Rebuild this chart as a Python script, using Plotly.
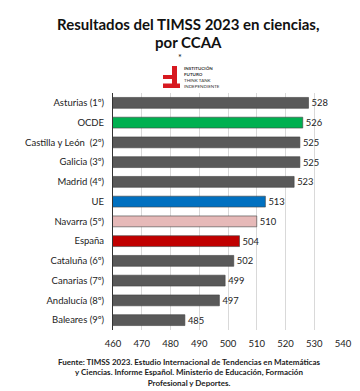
import plotly.graph_objects as go

categories = ["Asturias (1º)", "OCDE", "Castilla y León  (2º)", "Galicia (3º)", "Madrid (4º)", "UE",
              "Navarra (5º)", "España", "Cataluña (6º)", "Canarias (7º)", "Andalucía (8º)", "Baleares (9º)"]
values = [528, 526, 525, 525, 523, 513, 510, 504, 502, 499, 497, 485]
colors = ["#595959", "#00B050", "#595959", "#595959", "#595959", "#0070C0",
          "#E6B9B8", "#C00000", "#595959", "#595959", "#595959", "#595959"]
tick_vals = [460, 470, 480, 490, 500, 510, 520, 530, 540]

W, H = 360, 391
L, R, T, B = 105, 25, 85, 69
PW, PH = W - L - R, H - T - B


def px(x):
    return (x - L) / PW


def py(y):
    return (H - B - y) / PH


FONT = "Lato"

fig = go.Figure(go.Bar(
    y=categories, x=values, orientation="h",
    marker=dict(color=colors, line=dict(color="#404040", width=0.6)),
    width=0.55,
    text=[str(v) for v in values], textposition="outside",
    textfont=dict(size=9.5, color="#222222", family=FONT),
    cliponaxis=False,
))

fig.update_layout(
    width=W, height=H,
    margin=dict(l=L, r=R, t=T, b=B),
    paper_bgcolor="white", plot_bgcolor="white",
    showlegend=False,
    font=dict(family=FONT, color="#222222"),
    bargap=0.45,
    xaxis=dict(range=[460, 540], tickvals=tick_vals, showgrid=True, gridcolor="#D9D9D9",
               gridwidth=1, zeroline=False, tickfont=dict(size=9.5, color="#222222"),
               ticks="", ticklabelstandoff=6, showline=False),
    yaxis=dict(autorange="reversed", showline=True, linecolor="#333333", linewidth=1,
               tickfont=dict(size=9.5, color="#222222"), ticks="", ticklabelstandoff=6),
)

# Title
fig.add_annotation(x=px(180), y=py(16), xref="paper", yref="paper", showarrow=False,
                   text="<b>Resultados del TIMSS 2023 en ciencias,</b>",
                   font=dict(size=15, color="#111111", family=FONT), xanchor="center", yanchor="middle")
fig.add_annotation(x=px(180), y=py(34), xref="paper", yref="paper", showarrow=False,
                   text="<b>por CCAA</b>",
                   font=dict(size=15, color="#111111", family=FONT), xanchor="center", yanchor="middle")
fig.add_annotation(x=px(172), y=py(49), xref="paper", yref="paper", showarrow=False,
                   text="*", font=dict(size=9, color="#111111", family=FONT),
                   xanchor="center", yanchor="middle")

# Logo (red F mark)
red = "#D71920"
for (x0, y0, x1, y1) in [(164, 58, 169, 80), (155, 67, 169, 71), (155, 75.5, 172, 80)]:
    fig.add_shape(type="rect", xref="paper", yref="paper", x0=px(x0), x1=px(x1), y0=py(y1), y1=py(y0),
                  fillcolor=red, line=dict(width=0), layer="above")
fig.add_annotation(x=px(174), y=py(69.5), xref="paper", yref="paper", showarrow=False,
                   text="<b>INSTITUCIÓN</b><br><b>FUTURO</b><br>THINK TANK<br>INDEPENDIENTE",
                   font=dict(size=4.5, color="#333333", family=FONT), align="left",
                   xanchor="left", yanchor="middle")

# Source note
src = ["Fuente: TIMSS 2023. Estudio Internacional de Tendencias en Matemáticas",
       "y Ciencias. Informe Español. Ministerio de Educación, Formación",
       "Profesional y Deportes."]
fig.add_annotation(x=px(181), y=py(364.5), xref="paper", yref="paper", showarrow=False,
                   text="<br>".join("<b>" + s + "</b>" for s in src),
                   font=dict(size=8, color="#222222", family=FONT), align="center",
                   xanchor="center", yanchor="middle")

fig.write_html("out.html")
